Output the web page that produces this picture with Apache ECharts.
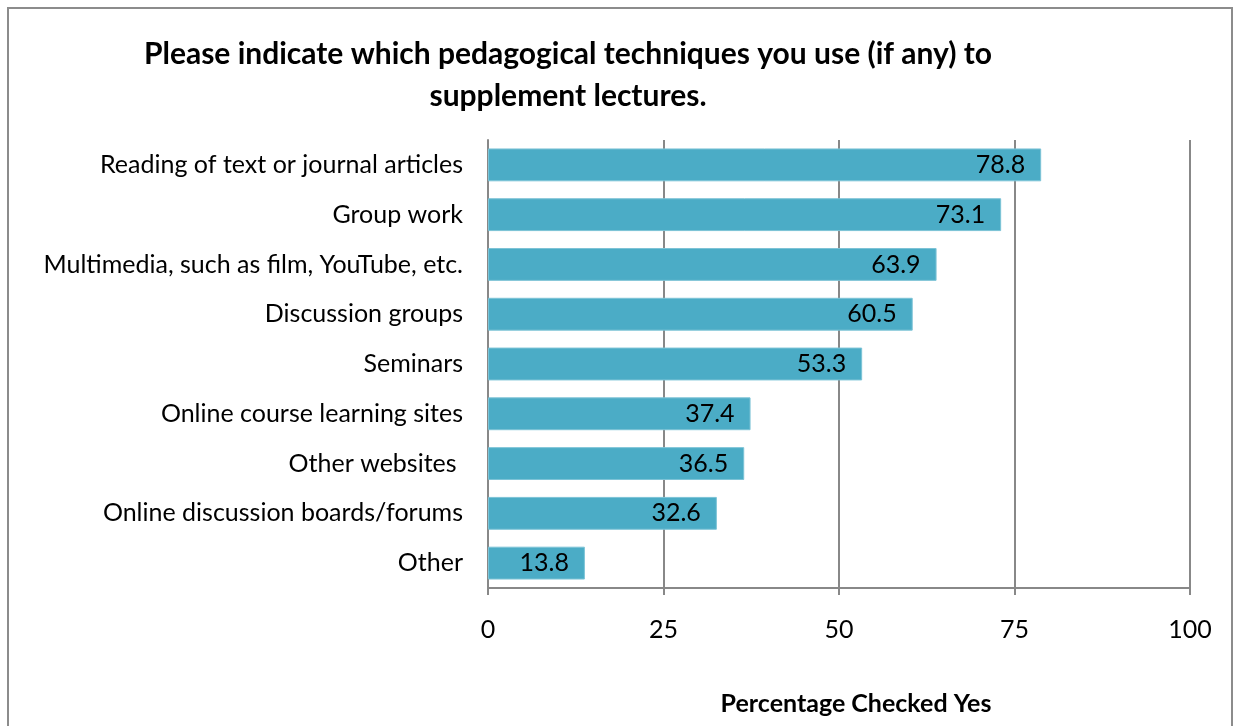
<!DOCTYPE html>
<html><head><meta charset="utf-8">
<script src="https://cdn.jsdelivr.net/npm/echarts@6/dist/echarts.min.js"></script>
<style>html,body{margin:0;padding:0;background:#fff}#c{width:1241px;height:726px}</style>
</head><body><div id="c"></div>
<script>
const categories = ["Reading of text or journal articles","Group work","Multimedia, such as film, YouTube, etc.","Discussion groups","Seminars","Online course learning sites","Other websites ","Online discussion boards/forums","Other"];
const values = [78.8,73.1,63.9,60.5,53.3,37.4,36.5,32.6,13.8];
const FONT = "Lato";
const chart = echarts.init(document.getElementById('c'), null, {renderer:'canvas'});
chart.setOption({
  animation:false,
  backgroundColor:'#fff',
  graphic:[{type:'rect',shape:{x:8,y:8,width:1224,height:740},style:{fill:'none',stroke:'#8c8c8c',lineWidth:2},silent:true}],
  title:{text:"Please indicate which pedagogical techniques you use (if any) to\nsupplement lectures.",left:563,top:28,textAlign:'center',
    textStyle:{fontFamily:FONT,fontWeight:'bold',fontSize:30,color:'#000',lineHeight:42}},
  grid:{left:488,right:51,top:140,bottom:138,containLabel:false,outerBoundsMode:'none'},
  xAxis:{type:'value',min:0,max:100,interval:25,
    name:'Percentage Checked Yes',nameLocation:'middle',nameGap:103,
    nameTextStyle:{fontFamily:FONT,fontWeight:'bold',fontSize:25,color:'#000',padding:[0,0,0,34]},
    axisLine:{show:true,lineStyle:{color:'#888',width:2}},
    axisTick:{show:true,length:7,lineStyle:{color:'#888',width:2}},
    axisLabel:{fontFamily:FONT,fontSize:25,color:'#000',margin:29},
    splitLine:{show:true,lineStyle:{color:'#888',width:2}}},
  yAxis:{type:'category',data:categories,inverse:true,
    axisLine:{show:true,lineStyle:{color:'#888',width:2}},
    axisTick:{show:false},
    axisLabel:{fontFamily:FONT,fontSize:25,color:'#000',margin:25}},
  series:[{type:'bar',data:values,barCategoryGap:'34%',
    itemStyle:{color:'#4bacc6',borderColor:'#7cc3d6',borderWidth:1},
    label:{show:true,position:'insideRight',distance:16,fontFamily:FONT,fontSize:25,color:'#000',formatter:p=>p.value.toFixed(1)}}]
});
</script></body></html>
